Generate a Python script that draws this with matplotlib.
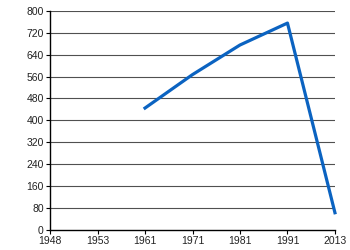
import matplotlib
matplotlib.use("Agg")
import matplotlib.pyplot as plt

years = ["1948", "1953", "1961", "1971", "1981", "1991", "2013"]
values = [None, None, 445, 567, 675, 755, 63]
y_ticks = [0, 80, 160, 240, 320, 400, 480, 560, 640, 720, 800]

plt.rcParams["font.family"] = ["Liberation Sans", "DejaVu Sans"]
plt.rcParams["font.size"] = 7.5

fig = plt.figure(figsize=(3.5, 2.5), dpi=100)
ax = fig.add_axes([0.143, 0.08, 0.814, 0.877])

xs = [i for i, v in enumerate(values) if v is not None]
ys = [v for v in values if v is not None]
ax.plot(xs, ys, color="#0b63c1", linewidth=2.3, clip_on=False, zorder=3)

ax.set_xlim(0, len(years) - 1)
ax.set_ylim(0, 800)
ax.set_xticks(range(len(years)))
ax.set_xticklabels(years)
ax.set_yticks(y_ticks)
for y in y_ticks[1:]:
    ax.axhline(y, color="#505050", linewidth=0.8, zorder=0)

ax.spines["top"].set_visible(False)
ax.spines["right"].set_visible(False)
ax.spines["left"].set_linewidth(1.0)
ax.spines["bottom"].set_linewidth(1.0)
ax.tick_params(axis="both", length=3, width=0.8, pad=1.5, colors="black",
               labelcolor="#222222")

fig.savefig("out.png", dpi=100)
